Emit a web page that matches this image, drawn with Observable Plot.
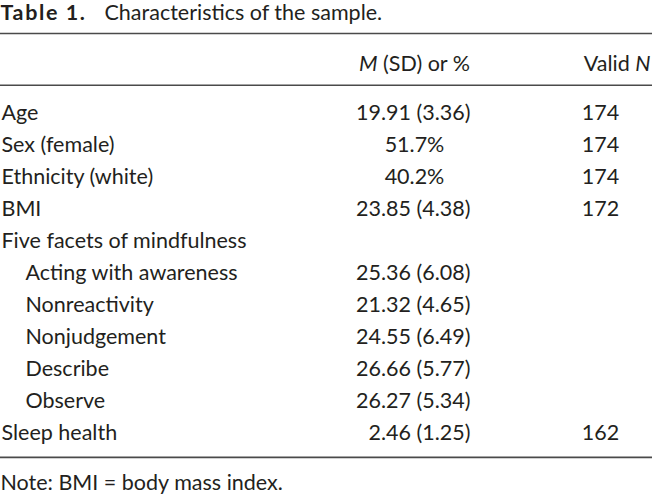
<!DOCTYPE html>
<html>
<head>
<meta charset="utf-8">
<script src="https://cdn.jsdelivr.net/npm/d3@7"></script>
<script src="https://cdn.jsdelivr.net/npm/@observablehq/plot@0.6"></script>
<style>
  html, body { margin: 0; padding: 0; background: #fff; }
  svg text { font-family: Lato, "Open Sans", sans-serif; }
</style>
</head>
<body>
<div id="chart"></div>
<script>
// ---- data ----
const titleBold = "Table 1.";
const titleText = "Characteristics of the sample.";
const noteText = "Note: BMI = body mass index.";
const labels = ["Age", "Sex (female)", "Ethnicity (white)", "BMI", "Five facets of mindfulness",
  "Acting with awareness", "Nonreactivity", "Nonjudgement", "Describe", "Observe", "Sleep health"];
const indented = [false, false, false, false, false, true, true, true, true, true, false];
const means = [19.91, null, null, 23.85, null, 25.36, 21.32, 24.55, 26.66, 26.27, 2.46];
const sds = [3.36, null, null, 4.38, null, 6.08, 4.65, 6.49, 5.77, 5.34, 1.25];
const percents = [null, 51.7, 40.2, null, null, null, null, null, null, null, null];
const validN = [174, 174, 174, 172, null, null, null, null, null, null, 162];

// ---- layout (column anchors in px, row index units) ----
const col = {label: 1, indent: 25, msdEnd: 470, pctMid: 414, headMid: 414, nMid: 600, headNEnd: 650};
const rows = labels.map((label, i) => ({
  i, label, indented: indented[i],
  msd: means[i] != null ? `${means[i].toFixed(2)} (${sds[i].toFixed(2)})` : null,
  pct: percents[i] != null ? `${percents[i].toFixed(1)}%` : null,
  n: validN[i]
}));

const ink = "#231f20";
const fs = 21.5;

const plot = Plot.plot({
  width: 652,
  height: 495,
  margin: 0,
  x: {type: "linear", domain: [0, 652], range: [0, 652], axis: null},
  y: {type: "linear", domain: [-3.53, 11.94], range: [0, 495], axis: null},
  marks: [
    // title
    Plot.text([titleBold], {x: () => 0, y: () => -3.13, text: d => d, textAnchor: "start", lineAnchor: "middle", fontSize: fs, fill: ink}),
    // rules
    Plot.ruleY([-2.5, -0.88, 10.75], {stroke: "#4a4a4a", strokeWidth: 1.6}),
    // header
    Plot.text(["MSD"], {x: () => col.headMid, y: () => -1.55, text: d => d, textAnchor: "middle", lineAnchor: "middle", fontSize: fs, fill: ink}),
    Plot.text(["VALIDN"], {x: () => col.headNEnd, y: () => -1.55, text: d => d, textAnchor: "end", lineAnchor: "middle", fontSize: fs, fill: ink}),
    // row labels
    Plot.text(rows, {x: d => d.indented ? col.indent : col.label, y: "i", text: "label", textAnchor: "start", lineAnchor: "middle", fontSize: fs, fill: ink}),
    // M (SD)
    Plot.text(rows.filter(d => d.msd), {x: () => col.msdEnd, y: "i", text: "msd", textAnchor: "end", lineAnchor: "middle", fontSize: fs, fill: ink}),
    // percentages
    Plot.text(rows.filter(d => d.pct), {x: () => col.pctMid, y: "i", text: "pct", textAnchor: "middle", lineAnchor: "middle", fontSize: fs, fill: ink}),
    // valid N
    Plot.text(rows.filter(d => d.n != null), {x: () => col.nMid, y: "i", text: d => String(d.n), textAnchor: "middle", lineAnchor: "middle", fontSize: fs, fill: ink}),
    // note
    Plot.text([noteText], {x: () => 0, y: () => 11.55, text: d => d, textAnchor: "start", lineAnchor: "middle", fontSize: fs, fill: ink})
  ]
});

// rich text: bold title, italic M and N
const ns = "http://www.w3.org/2000/svg";
function richify(match, parts) {
  plot.querySelectorAll("text").forEach(t => {
    if (t.textContent === match) {
      t.textContent = "";
      for (const p of parts) {
        const s = document.createElementNS(ns, "tspan");
        s.textContent = p.text;
        if (p.italic) s.setAttribute("font-style", "italic");
        if (p.bold) s.setAttribute("font-weight", "bold");
        if (p.spacing) s.setAttribute("letter-spacing", p.spacing);
        if (p.x != null) s.setAttribute("x", p.x);
        t.appendChild(s);
      }
    }
  });
}
richify(titleBold, [{text: titleBold, bold: true, spacing: 1.6}, {text: titleText, x: 104}]);
richify("MSD", [{text: "M", italic: true}, {text: " (SD) or %"}]);
richify("VALIDN", [{text: "Valid "}, {text: "N", italic: true}]);

document.getElementById("chart").appendChild(plot);
</script>
</body>
</html>
